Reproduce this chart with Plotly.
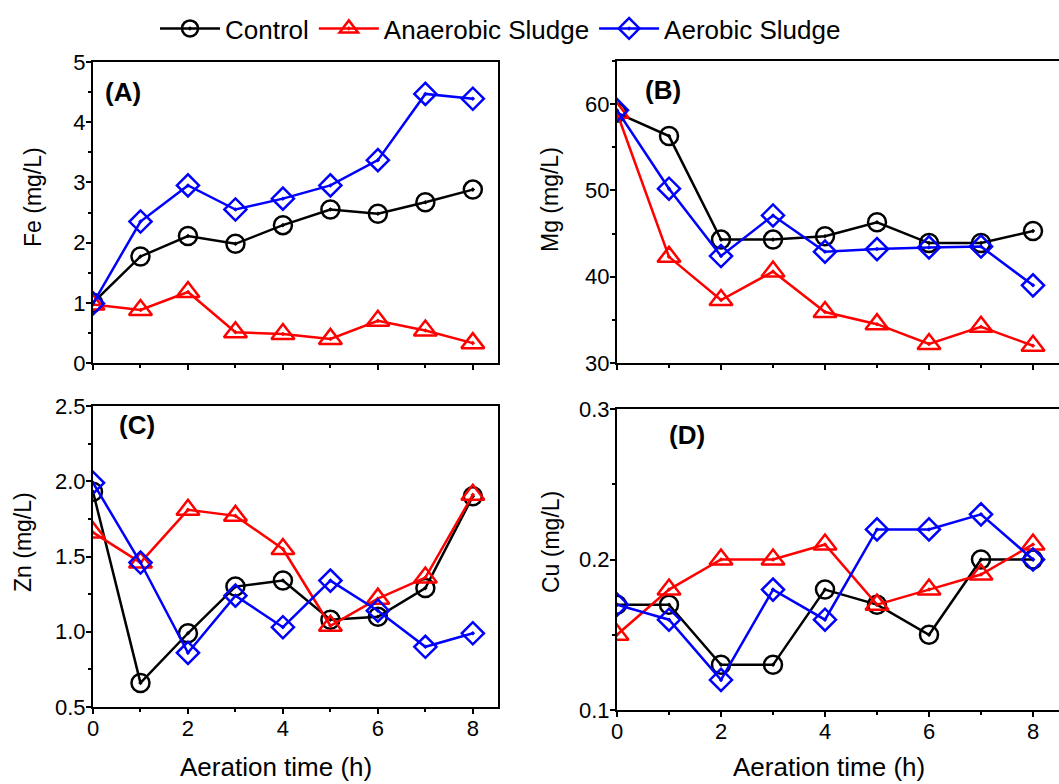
import plotly.graph_objects as go

hours = [0, 1, 2, 3, 4, 5, 6, 7, 8]
series_names = ["Control", "Anaerobic Sludge", "Aerobic Sludge"]

fe_control = [1.0, 1.77, 2.11, 1.98, 2.29, 2.55, 2.48, 2.67, 2.88]
fe_anaerobic = [0.97, 0.88, 1.18, 0.51, 0.48, 0.40, 0.70, 0.54, 0.33]
fe_aerobic = [0.99, 2.35, 2.95, 2.55, 2.73, 2.95, 3.37, 4.47, 4.39]

mg_control = [59.0, 56.3, 44.3, 44.3, 44.7, 46.3, 43.9, 43.9, 45.3]
mg_anaerobic = [59.0, 42.3, 37.3, 40.6, 35.9, 34.5, 32.2, 34.2, 32.0]
mg_aerobic = [59.3, 50.2, 42.4, 47.1, 42.9, 43.2, 43.4, 43.5, 39.0]

zn_control = [1.93, 0.66, 0.99, 1.30, 1.34, 1.08, 1.10, 1.29, 1.90]
zn_anaerobic = [1.66, 1.46, 1.81, 1.77, 1.55, 1.04, 1.22, 1.36, 1.91]
zn_aerobic = [1.99, 1.46, 0.86, 1.24, 1.03, 1.34, 1.14, 0.90, 0.99]

cu_control = [0.17, 0.17, 0.13, 0.13, 0.18, 0.17, 0.15, 0.20, 0.20]
cu_anaerobic = [0.15, 0.18, 0.20, 0.20, 0.21, 0.17, 0.18, 0.19, 0.21]
cu_aerobic = [0.17, 0.16, 0.12, 0.18, 0.16, 0.22, 0.22, 0.23, 0.20]

panel_labels = ["(A)", "(B)", "(C)", "(D)"]
y_titles = ["Fe (mg/L)", "Mg (mg/L)", "Zn (mg/L)", "Cu (mg/L)"]
x_title = "Aeration time (h)"

W, H = 1059, 784
FONT = "Liberation Sans, Arial, sans-serif"

def px(x):
    return x / W

def py(y):
    return 1 - y / H

colors = ["#000000", "#FF0000", "#0000FF"]
symbols = ["circle-open-dot", "triangle-up-open-dot", "diamond-open-dot"]
sizes = [18, 20, 17]

panels = [
    dict(data=[fe_control, fe_anaerobic, fe_aerobic], xd=(93, 498), yd=(62, 363),
         xr=[0, 8.53], yr=[0, 5], dt=1, mdt=0.5, fmt="d", lab=(103, 92), yt=(33, 197), showx=False),
    dict(data=[mg_control, mg_anaerobic, mg_aerobic], xd=(617, 1059), yd=(61, 363),
         xr=[0, 8.5], yr=[30, 65], dt=10, mdt=5, fmt="d", lab=(643, 90), yt=(550, 200), showx=False),
    dict(data=[zn_control, zn_anaerobic, zn_aerobic], xd=(93, 498), yd=(406, 707),
         xr=[0, 8.53], yr=[0.5, 2.5], dt=0.5, mdt=0.25, fmt=".1f", lab=(117, 425), yt=(23, 542), showx=True),
    dict(data=[cu_control, cu_anaerobic, cu_aerobic], xd=(617, 1059), yd=(409, 710),
         xr=[0, 8.5], yr=[0.1, 0.3], dt=0.1, mdt=0.05, fmt=".1f", lab=(667, 435), yt=(551, 542), showx=True),
]

fig = go.Figure()
annotations = []
layout_axes = {}

for i, p in enumerate(panels):
    k = "" if i == 0 else str(i + 1)
    for j, name in enumerate(series_names):
        fig.add_trace(go.Scatter(
            x=hours, y=p["data"][j], mode="lines+markers", name=name,
            legendgroup=name, showlegend=(i == 0),
            line=dict(color=colors[j], width=2.5),
            marker=dict(symbol=symbols[j], size=sizes[j], color=colors[j],
                        line=dict(color=colors[j], width=2.5)),
            xaxis="x" + k, yaxis="y" + k,
        ))
    layout_axes["xaxis" + k] = dict(
        domain=[px(p["xd"][0]), px(p["xd"][1])], range=p["xr"], anchor="y" + k,
        automargin=False,
        showline=True, linecolor="black", linewidth=2, mirror=True,
        ticks="outside", ticklen=5, tickwidth=2, tickcolor="black",
        tickmode="linear", tick0=0, dtick=2, ticklabelstandoff=-4,
        minor=dict(ticks="outside", ticklen=3, tickwidth=2, tickcolor="black", dtick=1, tick0=0),
        showticklabels=p["showx"], showgrid=False, zeroline=False,
        tickfont=dict(family=FONT, size=22, color="black"),
    )
    layout_axes["yaxis" + k] = dict(
        domain=[py(p["yd"][1]), py(p["yd"][0])], range=p["yr"], anchor="x" + k,
        automargin=False,
        showline=True, linecolor="black", linewidth=2, mirror=True,
        ticks="outside", ticklen=5, tickwidth=2, tickcolor="black",
        tickmode="linear", tick0=p["yr"][0], dtick=p["dt"], tickformat=p["fmt"],
        ticklabelstandoff=-4,
        minor=dict(ticks="outside", ticklen=3, tickwidth=2, tickcolor="black", dtick=p["mdt"], tick0=p["yr"][0]),
        showgrid=False, zeroline=False,
        tickfont=dict(family=FONT, size=22, color="black"),
    )
    annotations.append(dict(
        text="<b>" + panel_labels[i] + "</b>", x=px(p["lab"][0]), y=py(p["lab"][1]),
        xref="paper", yref="paper", xanchor="left", yanchor="middle", showarrow=False,
        font=dict(family=FONT, size=26, color="black"),
    ))
    annotations.append(dict(
        text=y_titles[i], x=px(p["yt"][0]), y=py(p["yt"][1]), textangle=-90,
        xref="paper", yref="paper", xanchor="center", yanchor="middle", showarrow=False,
        font=dict(family=FONT, size=23, color="black"),
    ))

annotations.append(dict(text=x_title, x=px(276), y=py(767), xref="paper", yref="paper",
                        xanchor="center", yanchor="middle", showarrow=False,
                        font=dict(family=FONT, size=26, color="black")))
annotations.append(dict(text=x_title, x=px(829), y=py(767), xref="paper", yref="paper",
                        xanchor="center", yanchor="middle", showarrow=False,
                        font=dict(family=FONT, size=26, color="black")))

fig.update_layout(
    width=W, height=H, margin=dict(l=0, r=0, t=0, b=0, autoexpand=False),
    paper_bgcolor="white", plot_bgcolor="white",
    showlegend=True,
    legend=dict(orientation="h", x=px(155), y=py(5), xanchor="left", yanchor="top",
                font=dict(family=FONT, size=26, color="black"),
                bgcolor="rgba(0,0,0,0)", itemwidth=60, tracegroupgap=0),
    annotations=annotations,
    **layout_axes,
)

fig.write_html("out.html", config={"displayModeBar": False},
               post_script="document.body.style.margin='0';")
